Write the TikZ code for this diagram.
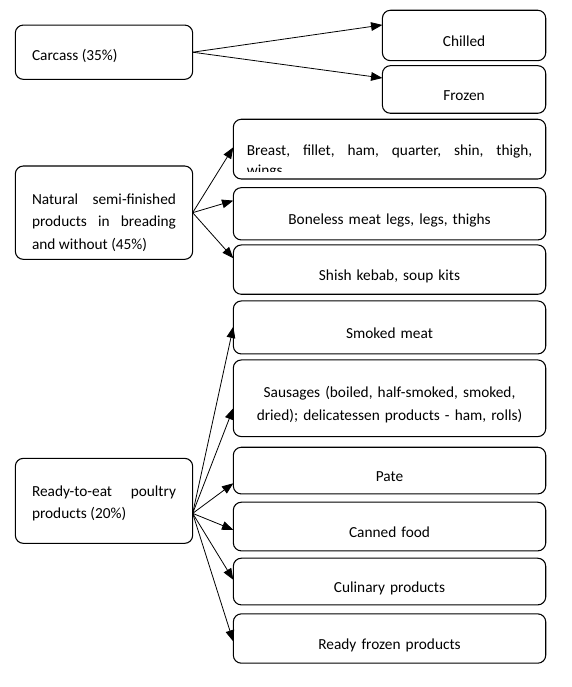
\documentclass[tikz,border=0pt]{standalone}
\usepackage{fontspec}
\setmainfont{Carlito}
\usetikzlibrary{arrows.meta, positioning}

\begin{document}
\begin{tikzpicture}[
  box/.style={rectangle, rounded corners=6pt, draw, line width=0.8pt, inner ysep=0pt, outer sep=0pt, font=\fontsize{11.5}{17}\selectfont},
  group/.style={box, minimum width=133pt, text width=108pt, align=justify},
  item/.style={box, minimum width=234.3pt, text width=214pt, align=center},
  drop/.style={execute at begin node={\rule[-2.5pt]{0pt}{#1}}, execute at end node={\rule[-2.5pt]{0pt}{2.5pt}}},
  drop/.default=21pt,
  cut/.style={inner sep=0pt, text width=214pt, align=justify, font=\fontsize{11.5}{14.7}\selectfont},
  link/.style={-{Triangle[length=8.5pt, width=6.5pt]}, line width=0.6pt}
]
  \useasboundingbox (0,0) rectangle (429pt,-515.25pt);

  % product groups
  \node[group, drop=17pt, minimum height=40.7pt] (carcass) at (78pt,-39.15pt) {Carcass (35\%)};
  \node[group, drop=26pt, minimum height=70pt, below=65pt of carcass] (natural) {Natural semi-finished\linebreak products in breading\linebreak and without (45\%)};
  \node[group, drop=15pt, minimum height=63.75pt, below=149.25pt of natural] (readyeat) {Ready-to-eat poultry\linebreak products (20\%)};

  % products
  \node[item, drop, minimum width=122.5pt, text width=105pt, minimum height=37.8pt, anchor=north east] (chilled) at (409.3pt,-7.7pt) {Chilled};
  \node[item, drop, minimum width=122.5pt, text width=105pt, minimum height=35.7pt, below=3.75pt of chilled] (frozen) {Frozen};
  \node[item, minimum height=44.8pt, below left=4.5pt and 0pt of frozen.south east] (breast) {};
  \node[item, drop, minimum height=39.2pt, below=6.5pt of breast] (boneless) {Boneless meat legs, legs, thighs};
  \node[item, drop, minimum height=37pt, below=3.75pt of boneless] (shish) {Shish kebab, soup kits};
  \node[item, drop, minimum height=39.75pt, below=5pt of shish] (smoked) {Smoked meat};
  \node[item, drop, minimum height=57.5pt, below=4.5pt of smoked] (sausages) {Sausages (boiled, half-smoked, smoked,\\ dried); delicatessen products - ham, rolls)};
  \node[item, drop, minimum height=35pt, below=8pt of sausages] (pate) {Pate};
  \node[item, drop, minimum height=36.5pt, below=6.2pt of pate] (canned) {Canned food};
  \node[item, drop, minimum height=35pt, below=5.5pt of canned] (culinary) {Culinary products};
  \node[item, drop, minimum height=37pt, below=6.75pt of culinary] (readyfrozen) {Ready frozen products};

  % text of the parts box, cut off at the bottom
  \begin{scope}
    \clip ([yshift=6pt]breast.south west) rectangle (breast.north east);
    \node[cut, anchor=base] (breasttext) at ([yshift=-5pt]breast.center) {Breast, fillet, ham, quarter, shin, thigh,\linebreak wings};
  \end{scope}

  % arrows
  \draw[link] (carcass.east) -- ([yshift=7.9pt]chilled.west);
  \draw[link] (carcass.east) -- ([yshift=8.6pt]frozen.west);

  \draw[link] (natural.east) -- ([yshift=1.4pt]breast.west);
  \draw[link] (natural.east) -- ([yshift=9.9pt]boneless.west);
  \draw[link] (natural.east) -- ([yshift=8.5pt]shish.west);

  \draw[link] ([yshift=-9.4pt]readyeat.east) -- ([yshift=0.6pt]smoked.west);
  \draw[link] ([yshift=-9.4pt]readyeat.east) -- ([yshift=-7.4pt]sausages.west);
  \draw[link] ([yshift=-9.4pt]readyeat.east) -- ([yshift=-9.5pt]pate.west);
  \draw[link] ([yshift=-9.4pt]readyeat.east) -- ([yshift=-2.5pt]canned.west);
  \draw[link] ([yshift=-9.4pt]readyeat.east) -- ([yshift=1.3pt]culinary.west);
  \draw[link] ([yshift=-9.4pt]readyeat.east) -- ([yshift=-2.25pt]readyfrozen.west);
\end{tikzpicture}
\end{document}
